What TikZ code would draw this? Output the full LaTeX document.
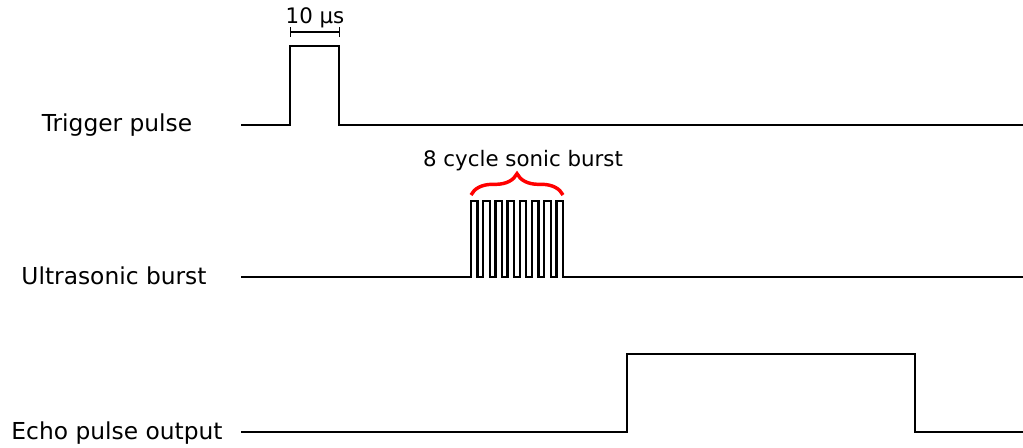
\documentclass[tikz,border=0pt]{standalone}
\usepackage{fontspec}
\setmainfont{DejaVu Sans}
\usetikzlibrary{arrows.meta,decorations.pathreplacing}

\begin{document}
\begin{tikzpicture}[
  x=0.75pt, y=-0.75pt,
  sig/.style={line width=1.7pt, line join=miter},
  lbl/.style={anchor=base, inner sep=0pt, font=\fontsize{17.5}{20}\selectfont},
  note/.style={anchor=base, inner sep=0pt, font=\fontsize{16}{19}\selectfont},
  span/.style={line width=1.1pt, {Bar[width=7pt]}-{Bar[width=7pt]}},
  burstbrace/.style={red, line width=2.6pt, decorate, decoration={brace, amplitude=16pt}}
]
\useasboundingbox (0,0) rectangle (1023,447);

% signal names
\node[lbl] (trig) at (117,131) {Trigger pulse};
\node[lbl] (ultra) at (114,284) {Ultrasonic burst};
\node[lbl] (echo) at (117,439) {Echo pulse output};

% start and end of each trace
\coordinate (t0) at (241,125);
\coordinate (t1) at (1023,125);
\coordinate (u0) at (241,277);
\coordinate (u1) at (1023,277);
\coordinate (e0) at (241,432);
\coordinate (e1) at (1023,432);

% trigger pulse
\draw[sig] (t0) -- (290,125) -- (290,46) -- (339,46) -- (339,125) -- (t1);
\draw[span] (290,32) coordinate (w0) -- (340,32) coordinate (w1);
\node[note] (width) at (315,23) {10 µs};

% 8 cycle burst
\draw[sig] (u0) foreach \i in {0,...,7} {
  -- ({471+\i*12.2},277) -- ++(0,-76) -- ++(6.5,0) -- ++(0,76)
} -- (u1);
\draw[burstbrace] (471,195) coordinate (b0) -- (563,195) coordinate (b1);
\node[note] (burst) at (523,166) {8 cycle sonic burst};

% echo
\draw[sig] (e0) -- (627,432) -- (627,354) -- (915,354) -- (915,432) -- (e1);
\end{tikzpicture}
\end{document}
